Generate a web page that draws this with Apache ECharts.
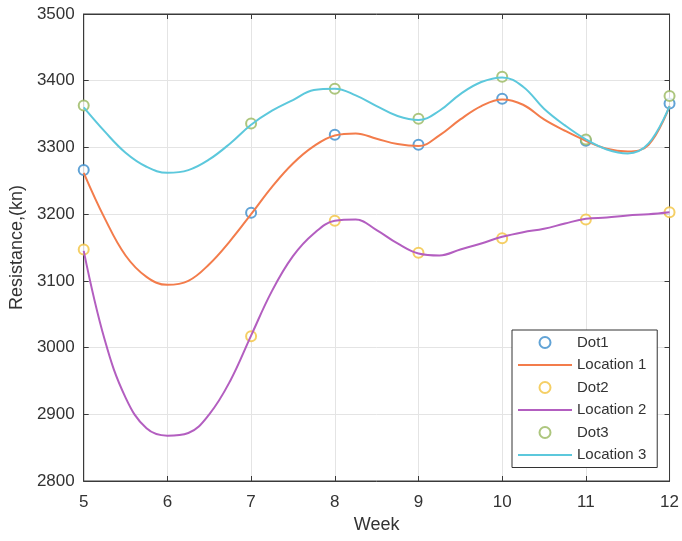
<!DOCTYPE html>
<html>
<head>
<meta charset="utf-8">
<script src="https://cdn.jsdelivr.net/npm/echarts@6/dist/echarts.min.js"></script>
<style>html,body{margin:0;padding:0;background:#fff}#c{width:682px;height:541px}</style>
</head>
<body>
<div id="c"></div>
<script>
// ---- data ----
const dotWeeks = [5, 7, 8, 9, 10, 11, 12];
const dot1 = [3266, 3202, 3319, 3304, 3373, 3310, 3366];
const dot2 = [3147, 3017, 3190, 3142, 3164, 3192, 3203];
const dot3 = [3363, 3336, 3388, 3343, 3406, 3312, 3377];

const lineWeeks = [5, 5.25, 5.5, 5.75, 6, 6.25, 6.5, 6.75, 7, 7.25, 7.5, 7.75, 8, 8.25, 8.5, 8.75, 9, 9.25, 9.5, 9.75, 10, 10.25, 10.5, 10.75, 11, 11.25, 11.5, 11.75, 12];
const location1 = [3262, 3194, 3138, 3106, 3094, 3100, 3125, 3160, 3200, 3241, 3276, 3302, 3318, 3321, 3313, 3305, 3302, 3318, 3342, 3362, 3372, 3364, 3342, 3325, 3310, 3298, 3294, 3304, 3362];
const location2 = [3145, 3012, 2925, 2879, 2868, 2872, 2900, 2950, 3018, 3085, 3137, 3171, 3190, 3192, 3176, 3156, 3141, 3138, 3147, 3156, 3166, 3173, 3178, 3186, 3193, 3195, 3198, 3200, 3203];
const location3 = [3360, 3324, 3292, 3271, 3262, 3266, 3282, 3306, 3334, 3355, 3371, 3386, 3388, 3378, 3362, 3347, 3341, 3355, 3380, 3398, 3405, 3391, 3358, 3333, 3312, 3297, 3291, 3306, 3362];

const xTicks = [5, 6, 7, 8, 9, 10, 11, 12];
const yTicks = [2800, 2900, 3000, 3100, 3200, 3300, 3400, 3500];

function pairs(xs, ys) { return xs.map((x, i) => [x, ys[i]]); }

const FONT = '"Liberation Sans", Arial, sans-serif';
const AX = '#3a3a3a';
const LINE_ICON = 'path://M0,0H54V1.8H0Z';

const chart = echarts.init(document.getElementById('c'), null, { renderer: 'canvas' });

function dotSeries(name, data, color) {
  return {
    name, type: 'scatter', data: pairs(dotWeeks, data),
    symbol: 'emptyCircle', symbolSize: 10,
    itemStyle: { color: color, borderColor: color, borderWidth: 1.5 },
    z: 3
  };
}
function lineSeries(name, data, color) {
  return {
    name, type: 'line', data: pairs(lineWeeks, data),
    smooth: 0.4, symbol: 'none', showSymbol: false,
    lineStyle: { color: color, width: 2 },
    itemStyle: { color: color },
    z: 4
  };
}

chart.setOption({
  animation: false,
  backgroundColor: '#fff',
  textStyle: { fontFamily: FONT },
  grid: { left: 80, right: 10, top: 14, bottom: 60, show: true, borderColor: AX, borderWidth: 1, backgroundColor: '#fff' },
  legend: {
    orient: 'vertical', left: 512, top: 330,
    padding: [5, 11, 5, 6],
    itemWidth: 54, itemHeight: 11, itemGap: 7.5,
    symbolKeepAspect: true,
    backgroundColor: '#fff', borderColor: '#333', borderWidth: 1,
    textStyle: { fontFamily: FONT, fontSize: 15, color: '#333' },
    data: [
      { name: 'Dot1' },
      { name: 'Location 1', icon: LINE_ICON },
      { name: 'Dot2' },
      { name: 'Location 2', icon: LINE_ICON },
      { name: 'Dot3' },
      { name: 'Location 3', icon: LINE_ICON }
    ]
  },
  xAxis: [{
    type: 'value', min: 5, max: 12, interval: 1,
    name: 'Week', nameLocation: 'middle', nameGap: 34,
    nameTextStyle: { fontFamily: FONT, fontSize: 18, color: '#333' },
    axisLine: { show: true, lineStyle: { color: AX } },
    axisTick: { show: true, inside: true, length: 5, lineStyle: { color: AX } },
    axisLabel: { fontFamily: FONT, fontSize: 17, color: '#333', margin: 13,
      formatter: v => xTicks.includes(v) ? String(v) : '' },
    splitLine: { show: true, lineStyle: { color: '#e4e4e4', width: 1 } }
  }, {
    type: 'value', min: 5, max: 12, interval: 1, position: 'top',
    axisLine: { show: true, lineStyle: { color: AX } },
    axisTick: { show: true, inside: true, length: 5, lineStyle: { color: AX } },
    axisLabel: { show: false }, splitLine: { show: false }
  }],
  yAxis: [{
    type: 'value', min: 2800, max: 3500, interval: 100,
    name: 'Resistance,(kn)', nameLocation: 'middle', nameGap: 55, nameRotate: 90,
    nameTextStyle: { fontFamily: FONT, fontSize: 18, color: '#333' },
    axisLine: { show: true, lineStyle: { color: AX } },
    axisTick: { show: true, inside: true, length: 5, lineStyle: { color: AX } },
    axisLabel: { fontFamily: FONT, fontSize: 17, color: '#333', margin: 9,
      formatter: v => yTicks.includes(v) ? String(v) : '' },
    splitLine: { show: true, lineStyle: { color: '#e4e4e4', width: 1 } }
  }, {
    type: 'value', min: 2800, max: 3500, interval: 100, position: 'right',
    axisLine: { show: true, lineStyle: { color: AX } },
    axisTick: { show: true, inside: true, length: 5, lineStyle: { color: AX } },
    axisLabel: { show: false }, splitLine: { show: false }
  }],
  series: [
    dotSeries('Dot1', dot1, '#3a8ccc'),
    lineSeries('Location 1', location1, '#f37c4b'),
    dotSeries('Dot2', dot2, '#f2c33e'),
    lineSeries('Location 2', location2, '#b35ec0'),
    dotSeries('Dot3', dot3, '#98b85e'),
    lineSeries('Location 3', location3, '#5cc8dc')
  ]
});
</script>
</body>
</html>
